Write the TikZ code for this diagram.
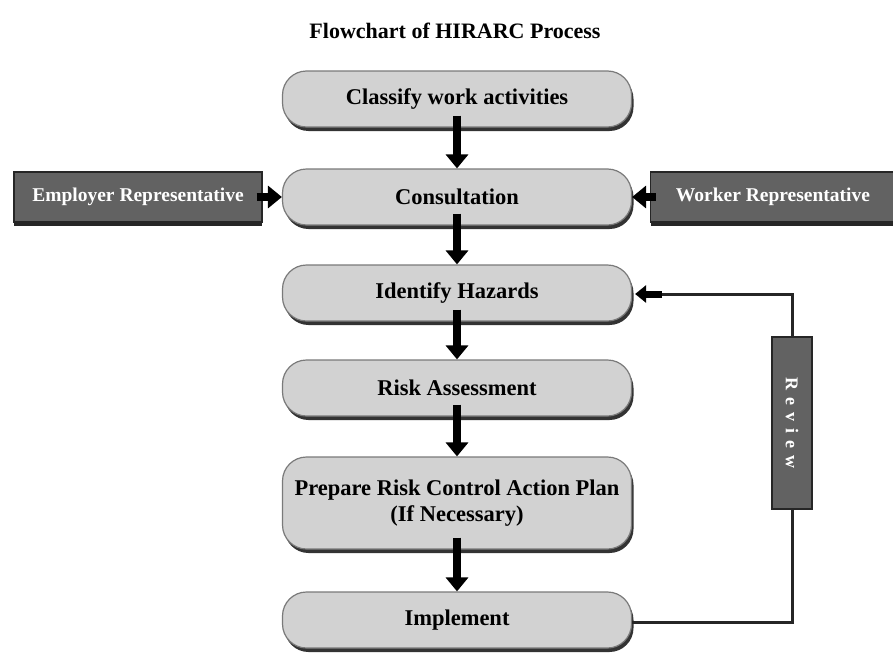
\documentclass[tikz,border=0pt]{standalone}
\usepackage{fontspec}
\setmainfont{Liberation Serif}
\usetikzlibrary{arrows.meta,positioning,calc}
\definecolor{boxfill}{HTML}{D2D2D2}
\definecolor{boxedge}{HTML}{7A7A7A}
\definecolor{darkbox}{HTML}{626262}
\tikzset{
  x=1pt,y=-1pt,
  procbox/.style={draw=boxedge, line width=1.2pt, fill=boxfill, rounded corners=24pt,
    minimum width=349pt, minimum height=56pt, font=\bfseries\fontsize{22.5}{26}\selectfont,
    align=center, inner sep=0pt,
    preaction={fill=black!80, transform canvas={xshift=2pt,yshift=-4pt}}},
  sidebox/.style={draw=black!85, line width=1.2pt, fill=darkbox, minimum height=50pt,
    text=white, font=\bfseries\fontsize{19.5}{22}\selectfont, inner sep=0pt,
    preaction={fill=black!85, transform canvas={yshift=-4pt}}},
  bigarrow/.style={line width=8pt, -{Triangle[width=22pt,length=14pt]}, black},
  fbline/.style={line width=3pt, black!85},
}
\begin{document}
\begin{tikzpicture}
\useasboundingbox (0,0) rectangle (893,653);
\node[font=\bfseries\fontsize{22}{26}\selectfont] (title) at (455,31) {Flowchart of HIRARC Process};
\node[procbox] (classify) at (457,99) {Classify work activities};
\node[procbox] (consult) at (457,197) {Consultation};
\node[procbox] (identify) at (457,293) {Identify Hazards};
\node[procbox] (risk) at (457,388) {Risk Assessment};
\node[procbox, minimum height=92pt] (prepare) at (457,503) {Prepare Risk Control Action Plan\\(If Necessary)};
\node[procbox] (implement) at (457,620) {Implement};
\node[sidebox, minimum width=248pt] (employer) at (138,197) {Employer Representative};
\node[sidebox, minimum width=245pt] (worker) at (773,197) {Worker Representative};
% main arrows
\draw[bigarrow] ([yshift=12pt]classify.south) -- (consult.north);
\draw[bigarrow] ([yshift=12pt]consult.south) -- (identify.north);
\draw[bigarrow] ([yshift=12pt]identify.south) -- (risk.north);
\draw[bigarrow] ([yshift=12pt]risk.south) -- (prepare.north);
\draw[bigarrow] ([yshift=12pt]prepare.south) -- (implement.north);
\draw[bigarrow] ([xshift=-6pt]employer.east) -- (consult.west);
\draw[bigarrow] ([xshift=6pt]worker.west) -- (consult.east);
% feedback
\coordinate (fbbot) at (792,622);
\coordinate (fbtop) at (792,294);
\draw[fbline] (implement.east |- fbbot) -- (fbbot) -- (fbtop) -- ([xshift=30pt]identify.east |- fbtop);
\draw[line width=7pt, -{Triangle[width=17pt,length=11pt]}] ([xshift=30pt]identify.east |- fbtop) -- ([xshift=3pt]identify.east |- fbtop);
\node[draw=black!85, line width=1.2pt, fill=darkbox, minimum width=40pt, minimum height=172pt,
  inner sep=0pt, text=white, font=\bfseries\fontsize{18}{20}\selectfont] (review) at (792,423)
  {\rotatebox{-90}{R\hspace{7pt}e\hspace{7pt}v\hspace{7pt}i\hspace{7pt}e\hspace{7pt}w}};
\end{tikzpicture}
\end{document}
